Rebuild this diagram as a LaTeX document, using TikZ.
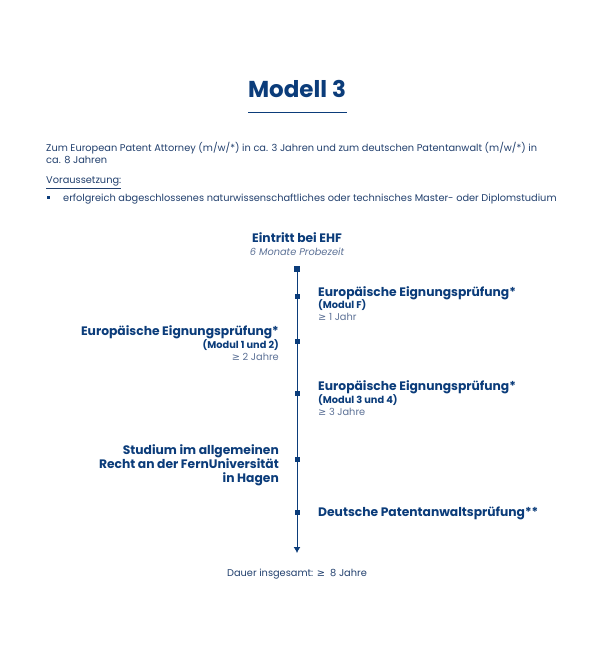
\documentclass[tikz,border=0pt]{standalone}
\usepackage{fontspec}
\setmainfont{Poppins}
\newfontfamily\symf{DejaVu Sans}
\usetikzlibrary{arrows.meta}
\definecolor{navy}{HTML}{0B3C7A}
\definecolor{txt}{HTML}{22406E}
\definecolor{lite}{HTML}{5C7196}
\newcommand{\mygeq}{{\symf ≥}}
\begin{document}
\begin{tikzpicture}[x=1pt,y=-1pt,
  tl/.style={inner sep=0pt,font=\fontsize{9.8}{11}\selectfont,text=txt},
  bx/.style={inner sep=0pt,minimum size=5pt,fill=navy},
  hd/.style={inner sep=0pt,font=\fontsize{12.3}{14}\bfseries\selectfont,text=navy},
  sub/.style={inner sep=0pt,font=\fontsize{9.8}{11}\bfseries\selectfont,text=navy},
  lt/.style={inner sep=0pt,font=\fontsize{9.8}{11}\selectfont,text=lite}]
\useasboundingbox[fill=white] (0,0) rectangle (595,652);
% title
\node[inner sep=0pt,font=\fontsize{23}{26}\bfseries\selectfont,text=navy,anchor=base] (title) at (297,98) {Modell 3};
\coordinate (ul1) at (248,112); \coordinate (ul2) at (347,112);
\draw[navy,line width=0.9pt] (ul1) -- (ul2);
% intro
\node[tl,anchor=base west] (i1) at (46,151.5) {Zum European Patent Attorney (m/w/*) in ca. 3 Jahren und zum deutschen Patentanwalt (m/w/*) in};
\node[tl,anchor=base west] (i2) at (46,163.5) {ca. 8 Jahren};
\node[tl,anchor=base west] (i3) at (46,184) {\underline{Voraussetzung:}};
\node[inner sep=0pt,minimum size=3.5pt,fill=navy] (b1) at (48.5,197.5) {};
\node[tl,anchor=base west] (i4) at (63,201) {erfolgreich abgeschlossenes naturwissenschaftliches oder technisches Master- oder Diplomstudium};
% timeline
\node[hd,anchor=base] (ehf) at (297,242.5) {Eintritt bei EHF};
\node[lt,anchor=base,font=\fontsize{9.8}{11}\itshape\selectfont] (pz) at (297,255) {6 Monate Probezeit};
\node[bx,minimum size=6pt] (s0) at (297,269) {};
\node[bx] (s1) at (297,296) {};
\node[bx] (s2) at (297,341) {};
\node[bx] (s3) at (297,393) {};
\node[bx] (s4) at (297,459) {};
\node[bx] (s5) at (297,512) {};
\coordinate (end) at (297,553);
\draw[navy,line width=1pt,-{Latex[length=6pt,width=7pt]}] (s0) -- (end);
% right 1
\node[hd,anchor=base west] (r1a) at (318,296.5) {Europäische Eignungsprüfung*};
\node[sub,anchor=base west] (r1b) at (318,308.5) {(Modul F)};
\node[lt,anchor=base west] (r1c) at (318,320.5) {\mygeq{} 1 Jahr};
% left 1
\node[hd,anchor=base east] (l1a) at (279,335.5) {Europäische Eignungsprüfung*};
\node[sub,anchor=base east] (l1b) at (279,348) {(Modul 1 und 2)};
\node[lt,anchor=base east] (l1c) at (279,360) {\mygeq{} 2 Jahre};
% right 2
\node[hd,anchor=base west] (r2a) at (318,390.5) {Europäische Eignungsprüfung*};
\node[sub,anchor=base west] (r2b) at (318,403) {(Modul 3 und 4)};
\node[lt,anchor=base west] (r2c) at (318,415) {\mygeq{} 3 Jahre};
% left 2
\node[hd,anchor=base east] (l2a) at (279,454.5) {Studium im allgemeinen};
\node[hd,anchor=base east] (l2b) at (279,468.5) {Recht an der FernUniversität};
\node[hd,anchor=base east] (l2c) at (279,482.5) {in Hagen};
% right 3
\node[hd,anchor=base west] (r3a) at (318,516.5) {Deutsche Patentanwaltsprüfung**};
% total
\node[tl,anchor=base] (tot) at (297,576) {Dauer insgesamt: \mygeq{}\ \ 8 Jahre};
\end{tikzpicture}
\end{document}
